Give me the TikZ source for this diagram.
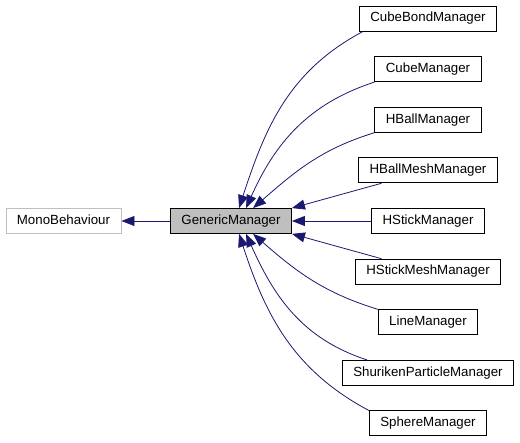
\documentclass[tikz,border=0pt]{standalone}
\usepackage{fontspec}
\setmainfont{Liberation Sans}
\usetikzlibrary{positioning, arrows.meta}

\definecolor{edgeblue}{HTML}{191970}
\definecolor{basegray}{HTML}{BFBFBF}

\tikzset{
  cls/.style={draw=black, fill=white, line width=0.8pt, inner xsep=11pt,
    minimum height=25pt, text height=9.6pt, text depth=2.8pt,
    font=\fontsize{13.3}{16}\selectfont},
  inh/.style={color=edgeblue, line width=0.8pt,
    -{Triangle[length=13pt, width=10pt]}}
}

\begin{document}
\begin{tikzpicture}
	[x=1pt, y=1pt, on grid, node distance=50.6pt]
   \useasboundingbox (0,0) rectangle (520,443);
   \node[cls, fill=basegray] (gm) at (231,222) {GenericManager};
   \node[cls, draw=basegray] (mono) [left=167.5pt of gm] {MonoBehaviour};
   \node[cls] (hsm) [right=197pt of gm] {HStickManager};
   \node[cls] (hbmm) [above=of hsm] {HBallMeshManager};
   \node[cls] (hbm) [above=of hbmm] {HBallManager};
   \node[cls] (cm) [above=of hbm] {CubeManager};
   \node[cls] (cbm) [above=of cm] {CubeBondManager};
   \node[cls] (hsmm) [below=of hsm] {HStickMeshManager};
   \node[cls] (lm) [below=of hsmm] {LineManager};
   \node[cls] (spm) [below=of lm] {ShurikenParticleManager};
   \node[cls] (sm) [below=of spm] {SphereManager};

    \path[inh]
   (gm) edge (mono)
   ([xshift=4pt]cbm.south west)
          edge [out=208, in=72] ([xshift=69pt]gm.north west)
   (cm.south west)
          edge [out=198, in=66] ([xshift=76pt]gm.north west)
   (hbm.south west)
          edge [out=197, in=41] ([xshift=83pt]gm.north west)
   (hbmm) edge (gm.north east)
   (hsm) edge (gm)
   (hsmm) edge (gm.south east)
   (lm.north west)
          edge [out=163, in=-41] ([xshift=83pt]gm.south west)
   ([xshift=25pt]spm.north west)
          edge [out=162, in=-66] ([xshift=76pt]gm.south west)
   (sm.north west)
          edge [out=152, in=-72] ([xshift=69pt]gm.south west);

\end{tikzpicture}
\end{document}
